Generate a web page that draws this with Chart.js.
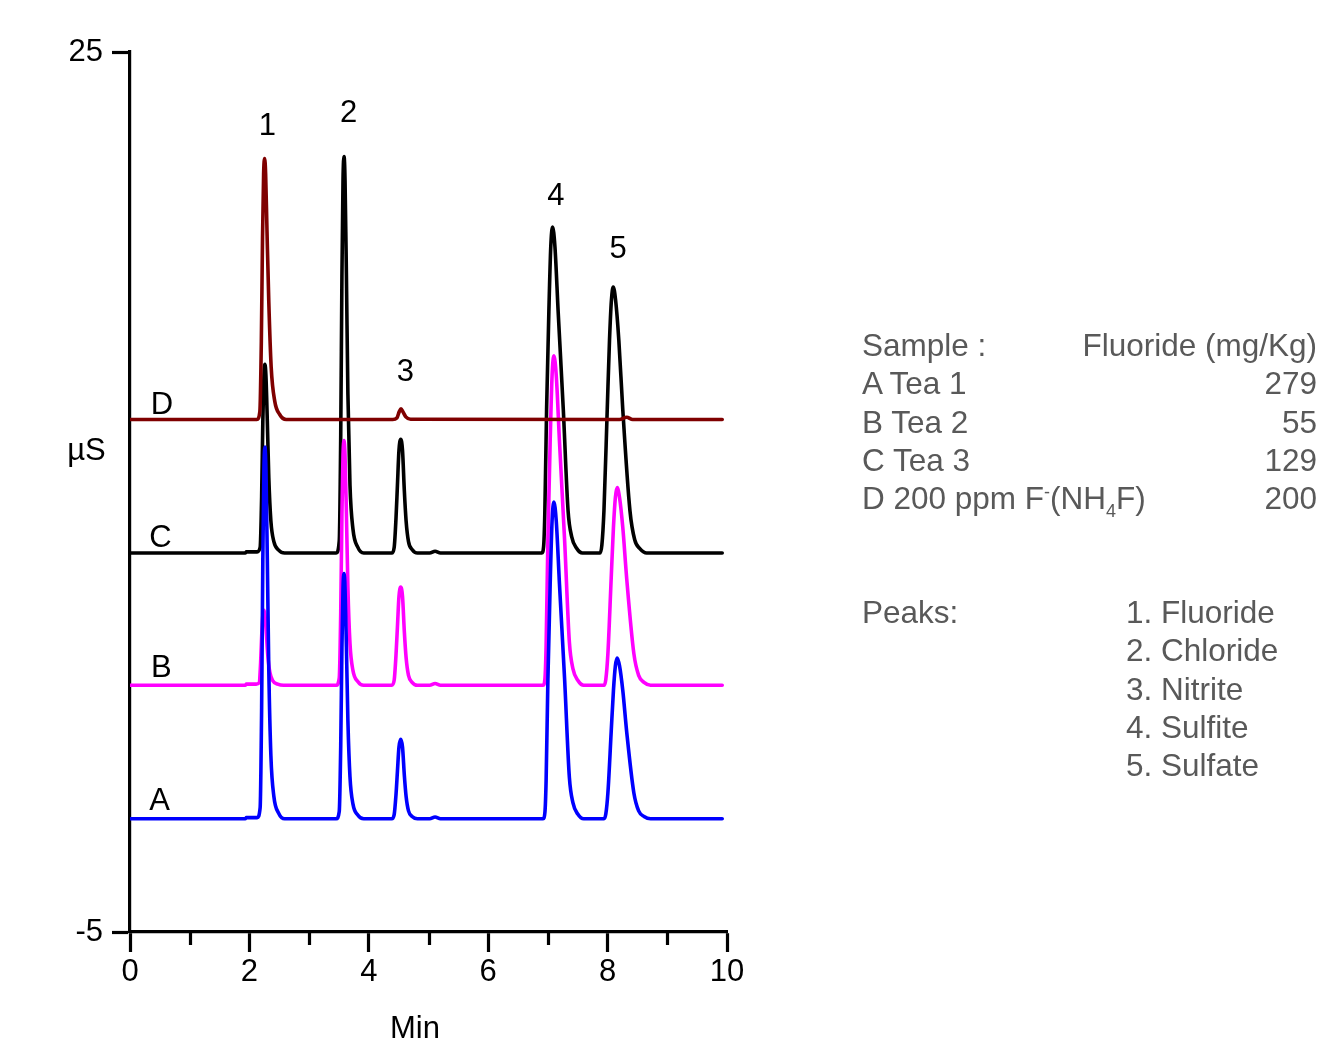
<!DOCTYPE html>
<html>
<head>
<meta charset="utf-8">
<script src="https://cdn.jsdelivr.net/npm/chart.js@4/dist/chart.umd.min.js"></script>
<style>
  body { margin: 0; background: #fff; }
  #wrap { position: relative; width: 1323px; height: 1040px; }
  #chart { display: block; }
  .leg { position: absolute; font-family: 'Liberation Sans', Arial, sans-serif; font-size: 31.5px; color: #595959; }
  .row { display: flex; justify-content: space-between; height: 38.3px; line-height: 38.3px; white-space: nowrap; }
  .sup { font-size: 18px; position: relative; top: -11px; }
  .sub { font-size: 18px; position: relative; top: 8px; }
</style>
</head>
<body>
<div id="wrap">
  <canvas id="chart" width="1323" height="1040"></canvas>
  <div class="leg" style="left:862px; top:326px; width:455px;">
    <div class="row"><span>Sample :</span><span>Fluoride (mg/Kg)</span></div>
    <div class="row"><span>A Tea 1</span><span>279</span></div>
    <div class="row"><span>B Tea 2</span><span>55</span></div>
    <div class="row"><span>C Tea 3</span><span>129</span></div>
    <div class="row"><span>D 200 ppm F<span class="sup">-</span>(NH<span class="sub">4</span>F)</span><span>200</span></div>
  </div>
  <div class="leg" style="left:862px; top:593px;">
    <div class="row"><span>Peaks:</span></div>
  </div>
  <div class="leg" style="left:1126px; top:593px;">
    <div class="row"><span>1. Fluoride</span></div>
    <div class="row"><span>2. Chloride</span></div>
    <div class="row"><span>3. Nitrite</span></div>
    <div class="row"><span>4. Sulfite</span></div>
    <div class="row"><span>5. Sulfate</span></div>
  </div>
</div>
<script>
// Chromatogram traces, [time (min), signal (µS)]
const traceA = [ // Tea 1, blue
  [0, -1.14], [1.93, -1.14], [1.95, -1.10], [2.10, -1.10],
  [2.13, -1.10], [2.18, -0.76], [2.205, 2.66], [2.225, 7.73], [2.243, 10.77], [2.26, 11.53], [2.277, 10.77], [2.30, 7.73], [2.325, 3.93], [2.36, 1.01], [2.41, -0.38], [2.49, -0.95], [2.59, -1.14],
  [3.455, -1.14], [3.505, -0.89], [3.53, 1.37], [3.55, 4.71], [3.568, 6.72], [3.585, 7.22], [3.602, 6.72], [3.625, 4.71], [3.65, 2.20], [3.685, 0.28], [3.735, -0.64], [3.815, -1.01], [3.915, -1.14],
  [4.385, -1.14], [4.425, -1.00], [4.455, -0.33], [4.48, 0.49], [4.505, 1.30], [4.535, 1.57], [4.565, 1.30], [4.595, 0.35], [4.625, -0.38], [4.665, -0.87], [4.725, -1.06], [4.815, -1.14],
  [5.02, -1.14], [5.11, -1.08], [5.20, -1.14],
  [6.92, -1.14], [6.95, -0.92], [6.97, 0.16], [7.00, 3.61], [7.038, 6.85], [7.07, 9.01], [7.10, 9.66], [7.14, 9.01], [7.194, 6.85], [7.28, 3.61], [7.36, 0.26], [7.42, -0.60], [7.50, -0.98], [7.60, -1.14],
  [7.94, -1.14], [7.97, -0.98], [8.005, -0.26], [8.06, 1.82], [8.098, 3.24], [8.13, 4.07], [8.16, 4.34], [8.20, 4.07], [8.254, 3.24], [8.32, 1.82], [8.44, -0.26], [8.52, -0.87], [8.61, -1.06], [8.72, -1.14],
  [9.92, -1.14]
];
const traceB = [ // Tea 2, magenta
  [0, 3.41], [1.93, 3.41], [1.95, 3.45], [2.09, 3.45],
  [2.113, 3.45], [2.163, 3.49], [2.188, 4.18], [2.208, 5.20], [2.226, 5.82], [2.243, 5.97], [2.26, 5.82], [2.283, 5.20], [2.308, 4.43], [2.343, 3.85], [2.393, 3.56], [2.473, 3.45], [2.573, 3.41],
  [3.455, 3.41], [3.505, 3.66], [3.53, 5.91], [3.55, 9.25], [3.568, 11.25], [3.585, 11.75], [3.602, 11.25], [3.625, 9.25], [3.65, 6.75], [3.685, 4.83], [3.735, 3.91], [3.815, 3.54], [3.915, 3.41],
  [4.385, 3.41], [4.425, 3.58], [4.455, 4.42], [4.48, 5.42], [4.505, 6.43], [4.535, 6.76], [4.565, 6.43], [4.595, 5.25], [4.625, 4.35], [4.665, 3.75], [4.725, 3.51], [4.815, 3.41],
  [5.02, 3.41], [5.11, 3.47], [5.20, 3.41],
  [6.92, 3.41], [6.95, 3.63], [6.97, 4.76], [7.00, 8.35], [7.038, 11.72], [7.07, 13.97], [7.10, 14.64], [7.14, 13.97], [7.194, 11.72], [7.28, 8.35], [7.36, 4.87], [7.42, 3.97], [7.50, 3.58], [7.60, 3.41],
  [7.94, 3.41], [7.97, 3.61], [8.005, 4.49], [8.06, 7.05], [8.098, 8.80], [8.13, 9.81], [8.16, 10.15], [8.20, 9.81], [8.254, 8.80], [8.32, 7.05], [8.44, 4.49], [8.52, 3.75], [8.61, 3.51], [8.72, 3.41],
  [9.92, 3.41]
];
const traceC = [ // Tea 3, black
  [0, 7.92], [1.93, 7.92], [1.95, 7.96], [2.10, 7.96],
  [2.13, 7.96], [2.18, 8.11], [2.205, 9.85], [2.225, 12.42], [2.243, 13.96], [2.26, 14.35], [2.277, 13.96], [2.30, 12.42], [2.325, 10.49], [2.36, 9.01], [2.41, 8.31], [2.49, 8.02], [2.59, 7.92],
  [3.455, 7.92], [3.505, 8.33], [3.53, 11.98], [3.55, 17.38], [3.568, 20.63], [3.585, 21.44], [3.602, 20.63], [3.625, 17.38], [3.65, 13.33], [3.685, 10.22], [3.735, 8.73], [3.815, 8.12], [3.915, 7.92],
  [4.385, 7.92], [4.425, 8.11], [4.455, 9.08], [4.48, 10.25], [4.505, 11.41], [4.535, 11.80], [4.565, 11.41], [4.595, 10.05], [4.625, 9.01], [4.665, 8.31], [4.725, 8.04], [4.815, 7.92],
  [5.02, 7.92], [5.11, 7.98], [5.20, 7.92],
  [6.898, 7.92], [6.928, 8.14], [6.948, 9.25], [6.978, 12.81], [7.016, 16.14], [7.048, 18.36], [7.078, 19.03], [7.118, 18.36], [7.172, 16.14], [7.258, 12.81], [7.338, 9.36], [7.398, 8.48], [7.478, 8.09], [7.578, 7.92],
  [7.874, 7.92], [7.904, 8.19], [7.939, 9.37], [7.994, 12.82], [8.032, 15.18], [8.064, 16.54], [8.094, 16.99], [8.134, 16.54], [8.188, 15.18], [8.254, 12.82], [8.374, 9.37], [8.454, 8.37], [8.544, 8.06], [8.654, 7.92],
  [9.92, 7.92]
];
const traceD = [ // 200 ppm F- standard, maroon
  [0, 12.47], [2.125, 12.47],
  [2.175, 12.74], [2.20, 15.14], [2.22, 18.70], [2.238, 20.84], [2.255, 21.37], [2.272, 20.84], [2.295, 18.88], [2.325, 16.48], [2.365, 14.25], [2.425, 13.09], [2.505, 12.65], [2.615, 12.47],
  [4.40, 12.47], [4.47, 12.52], [4.51, 12.74], [4.54, 12.84], [4.57, 12.74], [4.62, 12.56], [4.70, 12.48],
  [8.20, 12.47], [8.32, 12.55], [8.42, 12.47],
  [9.92, 12.47]
];

const yTickValues = [-5, 25];
const xMinorTicks = [1, 3, 5, 7, 9];
const traceNames = ['D', 'A', 'B', 'C'];
const peakNames = ['1', '2', '3', '4', '5'];

const fontFamily = "'Liberation Sans', Arial, sans-serif";

// where the letters and peak numbers sit, in data units
const traceLabelPos = { D: [0.536, 12.95], C: [0.508, 8.42], B: [0.523, 4.0], A: [0.495, -0.56] };
const peakLabelPos = [[2.30, 22.47], [3.663, 22.91], [4.613, 14.06], [7.135, 20.08], [8.178, 18.27]];

function toXY(trace) {
  return trace.map(p => ({ x: p[0], y: p[1] }));
}

const lineStyle = { borderWidth: 3.6, pointRadius: 0, fill: false, cubicInterpolationMode: 'monotone', borderJoinStyle: 'round', borderCapStyle: 'round' };

const annotate = {
  id: 'annotate',
  afterDraw(chart) {
    const ctx = chart.ctx;
    const x = chart.scales.x;
    const y = chart.scales.y;
    ctx.save();
    // minor ticks on the time axis
    ctx.strokeStyle = '#000';
    ctx.lineWidth = 3.2;
    for (const t of xMinorTicks) {
      const px = Math.round(x.getPixelForValue(t)) + 0.5;
      ctx.beginPath();
      ctx.moveTo(px, y.bottom);
      ctx.lineTo(px, y.bottom + 13);
      ctx.stroke();
    }
    ctx.fillStyle = '#000';
    ctx.font = '31px ' + fontFamily;
    ctx.textAlign = 'center';
    ctx.textBaseline = 'middle';
    for (const name of traceNames) {
      const p = traceLabelPos[name];
      ctx.fillText(name, x.getPixelForValue(p[0]), y.getPixelForValue(p[1]));
    }
    peakNames.forEach((name, i) => {
      const p = peakLabelPos[i];
      ctx.fillText(name, x.getPixelForValue(p[0]), y.getPixelForValue(p[1]));
    });
    // axis titles
    ctx.fillText('µS', 86.5, 451);
    ctx.fillText('Min', 415, 1029);
    ctx.restore();
  }
};

new Chart(document.getElementById('chart'), {
  type: 'line',
  data: {
    datasets: [
      Object.assign({ label: 'D', data: toXY(traceD), borderColor: '#7f0000' }, lineStyle),
      Object.assign({ label: 'A', data: toXY(traceA), borderColor: '#0000ff' }, lineStyle),
      Object.assign({ label: 'B', data: toXY(traceB), borderColor: '#ff00ff' }, lineStyle),
      Object.assign({ label: 'C', data: toXY(traceC), borderColor: '#000000' }, lineStyle)
    ]
  },
  options: {
    responsive: false,
    animation: false,
    layout: { padding: { left: 0, top: 52, right: 596, bottom: 0 } },
    plugins: { legend: { display: false }, tooltip: { enabled: false } },
    scales: {
      x: {
        type: 'linear', min: 0, max: 10,
        ticks: { stepSize: 2, color: '#000', font: { family: fontFamily, size: 31 }, padding: 2, maxRotation: 0 },
        grid: { drawOnChartArea: false, tickLength: 20, tickWidth: 3.2, tickColor: '#000' },
        border: { color: '#000', width: 3.2 },
        afterFit: s => { s.height = 108; }
      },
      y: {
        type: 'linear', min: -5, max: 25,
        afterBuildTicks: s => { s.ticks = yTickValues.map(v => ({ value: v })); },
        ticks: { color: '#000', font: { family: fontFamily, size: 31 }, padding: 9 },
        grid: { drawOnChartArea: false, tickLength: 18, tickWidth: 3.2, tickColor: '#000' },
        border: { color: '#000', width: 3.2 },
        afterFit: s => { s.width = 130; }
      }
    }
  },
  plugins: [annotate]
});
</script>
</body>
</html>
